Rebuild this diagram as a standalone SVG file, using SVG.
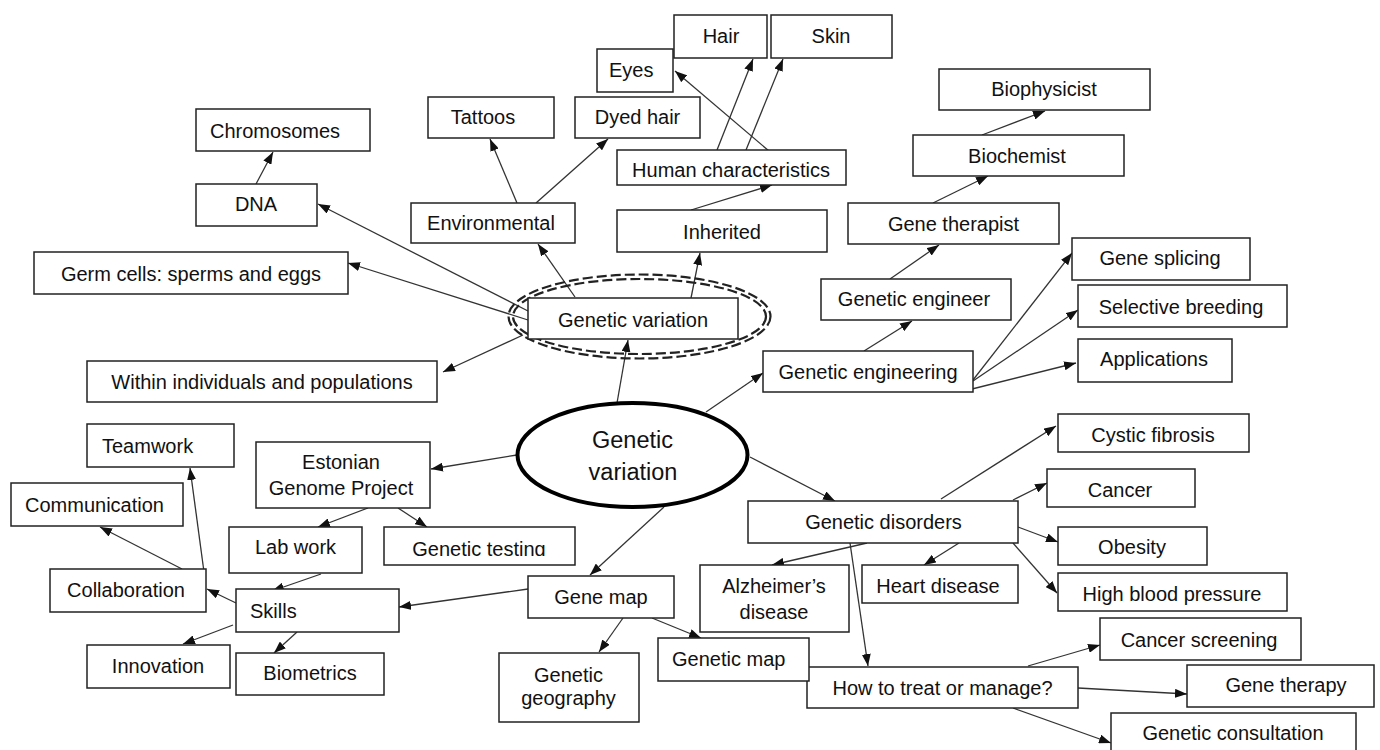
<svg xmlns="http://www.w3.org/2000/svg" width="1380" height="750" viewBox="0 0 1380 750">
<style>
.b{fill:#fff;stroke:#222;stroke-width:1.5}
.t{font-family:"Liberation Sans",Arial,sans-serif;font-size:20px;fill:#111}
.m{text-anchor:middle}
.c line{stroke:#333;stroke-width:1.3;marker-end:url(#ah)}
.big{font-family:"Liberation Sans",Arial,sans-serif;font-size:23.5px;fill:#111;text-anchor:middle}
.d{fill:none;stroke:#222;stroke-width:2.2;stroke-dasharray:10 4}
</style>
<defs>
<marker id="ah" markerUnits="userSpaceOnUse" markerWidth="12" markerHeight="9" refX="12" refY="4.5" orient="auto">
<path d="M0,0 L12,4.5 L0,9 z" fill="#111"/>
</marker>
<clipPath id="clipGT"><rect x="380" y="520" width="200" height="36"/></clipPath>
</defs>
<rect width="1380" height="750" fill="#fff"/>
<g id="connectors" class="c">
<line x1="256" y1="184" x2="273" y2="152"/>
<line x1="528" y1="311" x2="318" y2="204"/>
<line x1="528" y1="320" x2="348" y2="263"/>
<line x1="523" y1="335" x2="443" y2="372"/>
<line x1="575" y1="297" x2="538" y2="244"/>
<line x1="691" y1="298" x2="700" y2="253"/>
<line x1="517" y1="203" x2="490" y2="139"/>
<line x1="536" y1="203" x2="608" y2="139"/>
<line x1="691" y1="210" x2="772" y2="185"/>
<line x1="717" y1="150" x2="753" y2="59"/>
<line x1="746" y1="150" x2="783" y2="59"/>
<line x1="769" y1="151" x2="675" y2="71"/>
<line x1="617" y1="403" x2="628" y2="340"/>
<line x1="706" y1="412" x2="763" y2="373"/>
<line x1="864" y1="351" x2="912" y2="321"/>
<line x1="890" y1="279" x2="939" y2="245"/>
<line x1="933" y1="203" x2="988" y2="176"/>
<line x1="982" y1="135" x2="1045" y2="111"/>
<line x1="973" y1="380" x2="1072" y2="253"/>
<line x1="973" y1="381" x2="1078" y2="310"/>
<line x1="968" y1="390" x2="1076" y2="363"/>
<line x1="750" y1="457" x2="835" y2="501"/>
<line x1="941" y1="499" x2="1056" y2="426"/>
<line x1="1013" y1="500" x2="1047" y2="483"/>
<line x1="1018" y1="527" x2="1058" y2="542"/>
<line x1="1013" y1="543" x2="1057" y2="593"/>
<line x1="867" y1="543" x2="772" y2="565"/>
<line x1="959" y1="543" x2="924" y2="565"/>
<line x1="850" y1="543" x2="868" y2="666"/>
<line x1="1028" y1="666" x2="1100" y2="645"/>
<line x1="1078" y1="688" x2="1187" y2="694"/>
<line x1="1013" y1="708" x2="1111" y2="743"/>
<line x1="664" y1="507" x2="590" y2="575"/>
<line x1="623" y1="618" x2="599" y2="652"/>
<line x1="652" y1="618" x2="701" y2="638"/>
<line x1="528" y1="589" x2="399" y2="607"/>
<line x1="517" y1="455" x2="431" y2="469"/>
<line x1="368" y1="508" x2="318" y2="527"/>
<line x1="398" y1="508" x2="427" y2="527"/>
<line x1="321" y1="574" x2="272" y2="591"/>
<line x1="236" y1="603" x2="207" y2="589"/>
<line x1="233" y1="625" x2="183" y2="644"/>
<line x1="297" y1="632" x2="274" y2="653"/>
<line x1="182" y1="569" x2="100" y2="527"/>
<line x1="204" y1="572" x2="190" y2="468"/>
</g>
<g id="chromosomes"><rect class="b" x="196" y="109" width="174" height="42"/><text class="t" x="210" y="138">Chromosomes</text></g>
<g id="dna"><rect class="b" x="196" y="184" width="121" height="42"/><text class="t m" x="256" y="211">DNA</text></g>
<g id="tattoos"><rect class="b" x="428" y="97" width="126" height="41"/><text class="t m" x="483" y="124">Tattoos</text></g>
<g id="dyed-hair"><rect class="b" x="575" y="97" width="125" height="41"/><text class="t m" x="637.5" y="124">Dyed hair</text></g>
<g id="eyes"><rect class="b" x="597" y="49" width="76" height="43"/><text class="t" x="609" y="77">Eyes</text></g>
<g id="hair"><rect class="b" x="674" y="15" width="93" height="43"/><text class="t m" x="721" y="43">Hair</text></g>
<g id="skin"><rect class="b" x="771" y="15" width="121" height="43"/><text class="t m" x="831" y="43">Skin</text></g>
<g id="human-characteristics"><rect class="b" x="617" y="150" width="229" height="35"/><text class="t m" x="731" y="177">Human characteristics</text></g>
<g id="inherited"><rect class="b" x="617" y="210" width="210" height="42"/><text class="t m" x="722" y="239">Inherited</text></g>
<g id="environmental"><rect class="b" x="411" y="203" width="164" height="40"/><text class="t m" x="491" y="230">Environmental</text></g>
<g id="biophysicist"><rect class="b" x="939" y="69" width="211" height="41"/><text class="t m" x="1044" y="96">Biophysicist</text></g>
<g id="biochemist"><rect class="b" x="913" y="135" width="211" height="41"/><text class="t m" x="1017" y="163">Biochemist</text></g>
<g id="gene-therapist"><rect class="b" x="848" y="203" width="211" height="41"/><text class="t m" x="953.5" y="231">Gene therapist</text></g>
<g id="genetic-engineer"><rect class="b" x="821" y="279" width="190" height="41"/><text class="t m" x="914" y="306">Genetic engineer</text></g>
<g id="genetic-engineering"><rect class="b" x="763" y="351" width="210" height="41"/><text class="t m" x="868" y="379">Genetic engineering</text></g>
<g id="gene-splicing"><rect class="b" x="1072" y="238" width="178" height="42"/><text class="t m" x="1160" y="265">Gene splicing</text></g>
<g id="selective-breeding"><rect class="b" x="1078" y="285" width="209" height="42"/><text class="t m" x="1181" y="314">Selective breeding</text></g>
<g id="applications"><rect class="b" x="1078" y="339" width="154" height="43"/><text class="t m" x="1154" y="366">Applications</text></g>
<g id="cystic-fibrosis"><rect class="b" x="1058" y="414" width="191" height="38"/><text class="t m" x="1153" y="442">Cystic fibrosis</text></g>
<g id="cancer"><rect class="b" x="1047" y="469" width="148" height="38"/><text class="t m" x="1120" y="497">Cancer</text></g>
<g id="obesity"><rect class="b" x="1058" y="527" width="149" height="38"/><text class="t m" x="1132" y="554">Obesity</text></g>
<g id="high-blood-pressure"><rect class="b" x="1058" y="573" width="229" height="38"/><text class="t m" x="1172" y="601">High blood pressure</text></g>
<g id="cancer-screening"><rect class="b" x="1100" y="618" width="201" height="42"/><text class="t m" x="1199" y="647">Cancer screening</text></g>
<g id="gene-therapy"><rect class="b" x="1187" y="665" width="187" height="42"/><text class="t m" x="1286" y="692">Gene therapy</text></g>
<g id="genetic-consultation"><rect class="b" x="1111" y="713" width="245" height="40"/><text class="t m" x="1233" y="740">Genetic consultation</text></g>
<g id="how-to-treat"><rect class="b" x="807" y="667" width="271" height="41"/><text class="t m" x="942.5" y="695">How to treat or manage?</text></g>
<g id="genetic-disorders"><rect class="b" x="748" y="501" width="270" height="42"/><text class="t m" x="883.5" y="529">Genetic disorders</text></g>
<g id="heart-disease"><rect class="b" x="862" y="565" width="156" height="38"/><text class="t m" x="938" y="593">Heart disease</text></g>
<g id="alzheimers"><rect class="b" x="700" y="565" width="149" height="67"/><text class="t m" x="774" y="593">Alzheimer’s</text><text class="t m" x="774" y="619">disease</text></g>
<g id="gene-map"><rect class="b" x="528" y="576" width="146" height="42"/><text class="t m" x="601" y="604">Gene map</text></g>
<g id="genetic-map"><rect class="b" x="658" y="638" width="151" height="43"/><text class="t" x="672" y="666">Genetic map</text></g>
<g id="genetic-geography"><rect class="b" x="499" y="653" width="140" height="69"/><text class="t m" x="568.5" y="682">Genetic</text><text class="t m" x="568.5" y="705">geography</text></g>
<g id="genetic-testing"><rect class="b" x="384" y="527" width="191" height="38"/><text class="t m" x="479" y="556" clip-path="url(#clipGT)">Genetic testing</text></g>
<g id="estonian-genome-project"><rect class="b" x="256" y="442" width="174" height="66"/><text class="t m" x="341" y="469">Estonian</text><text class="t m" x="341" y="495">Genome Project</text></g>
<g id="lab-work"><rect class="b" x="229" y="527" width="133" height="46"/><text class="t m" x="295.5" y="554">Lab work</text></g>
<g id="teamwork"><rect class="b" x="87" y="424" width="147" height="43"/><text class="t" x="102" y="453">Teamwork</text></g>
<g id="communication"><rect class="b" x="11" y="483" width="172" height="43"/><text class="t" x="25" y="512">Communication</text></g>
<g id="collaboration"><rect class="b" x="50" y="569" width="156" height="43"/><text class="t m" x="126" y="597">Collaboration</text></g>
<g id="skills"><rect class="b" x="236" y="589" width="163" height="43"/><text class="t" x="250" y="618">Skills</text></g>
<g id="innovation"><rect class="b" x="87" y="645" width="143" height="43"/><text class="t m" x="158" y="673">Innovation</text></g>
<g id="biometrics"><rect class="b" x="236" y="653" width="148" height="42"/><text class="t m" x="310" y="680">Biometrics</text></g>
<g id="germ-cells"><rect class="b" x="34" y="252" width="314" height="42"/><text class="t m" x="191" y="281">Germ cells: sperms and eggs</text></g>
<g id="within"><rect class="b" x="87" y="361" width="350" height="41"/><text class="t m" x="262" y="389">Within individuals and populations</text></g>
<g id="genetic-variation-sub">
<ellipse class="d" cx="639.5" cy="316.5" rx="131" ry="42"/>
<ellipse class="d" cx="639.5" cy="316.5" rx="126.5" ry="37.5"/>
<rect class="b" x="528" y="298" width="210" height="41"/><text class="t m" x="633" y="327">Genetic variation</text>
</g>
<g id="genetic-variation-main">
<ellipse cx="632.5" cy="455" rx="115" ry="52" fill="#fff" stroke="#000" stroke-width="4"/>
<text class="big" x="632.5" y="448">Genetic</text><text class="big" x="633" y="480">variation</text>
</g>
</svg>
